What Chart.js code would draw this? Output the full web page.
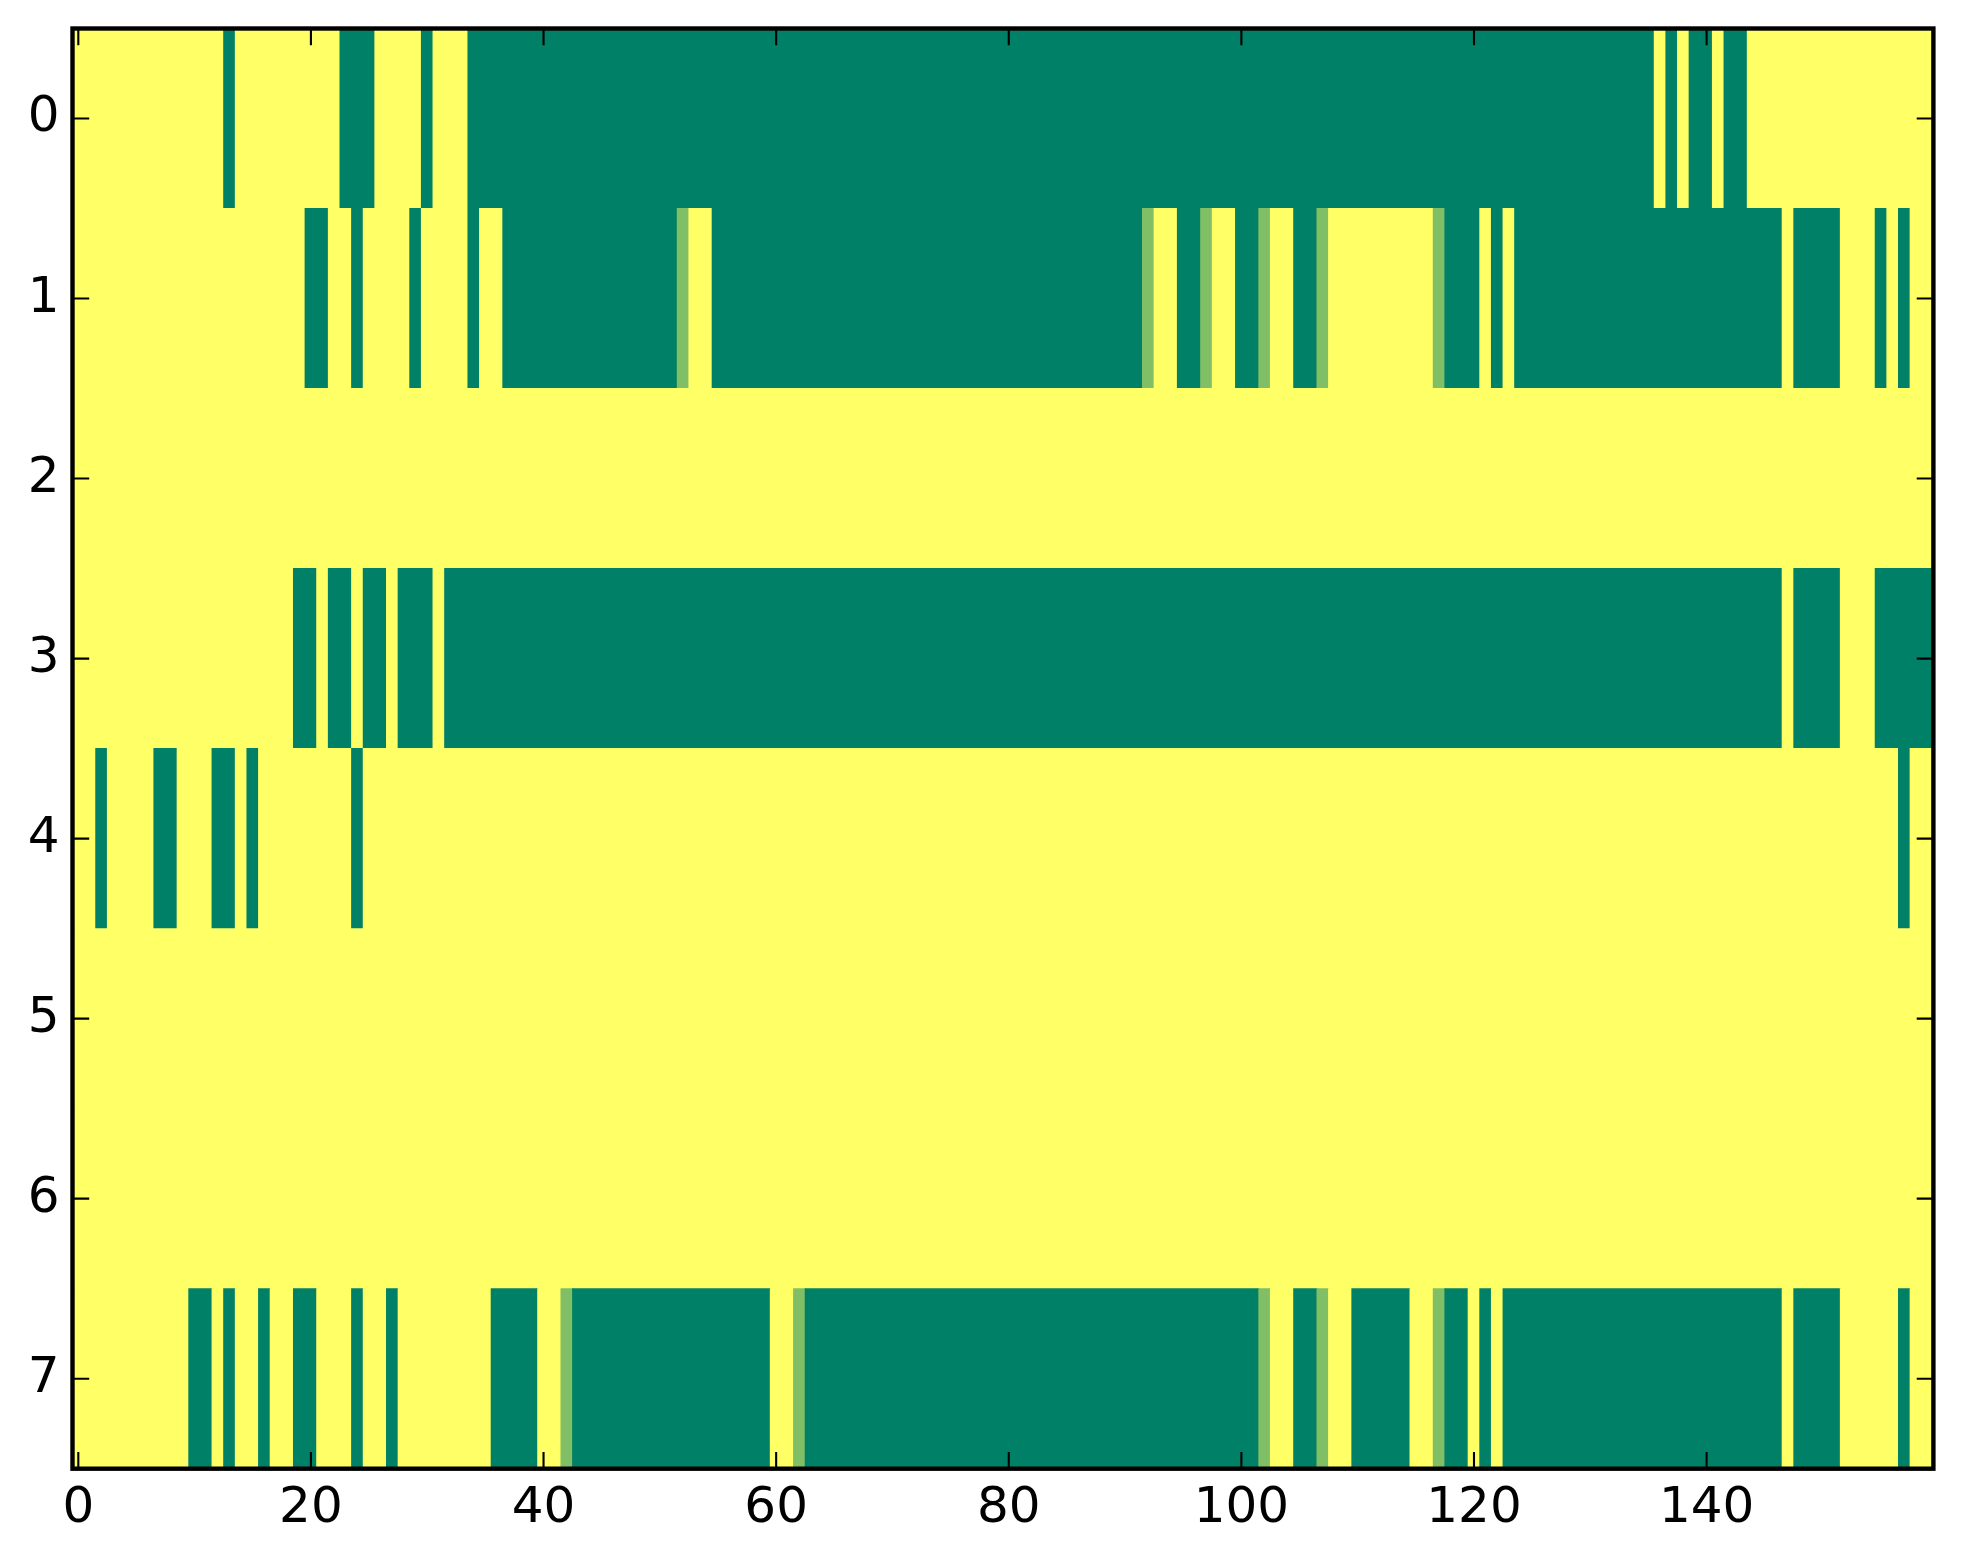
<!DOCTYPE html>
<html>
<head>
<meta charset="utf-8">
<script src="https://cdn.jsdelivr.net/npm/chart.js@4.4.1/dist/chart.umd.min.js"></script>
<style>
body{margin:0;background:#fff;}
</style>
</head>
<body>
<canvas id="mapa" width="1963" height="1564"></canvas>
<script>
// una fila de la imagen por arreglo, 160 columnas (0..159)
// 1 = amarillo, 0 = verde, 0.5 = intermedio
const fila0 = [
1,1,1,1,1,1,1,1,1,1, 1,1,1,0,1,1,1,1,1,1,
1,1,1,0,0,0,1,1,1,1, 0,1,1,1,0,0,0,0,0,0,
0,0,0,0,0,0,0,0,0,0, 0,0,0,0,0,0,0,0,0,0,
0,0,0,0,0,0,0,0,0,0, 0,0,0,0,0,0,0,0,0,0,
0,0,0,0,0,0,0,0,0,0, 0,0,0,0,0,0,0,0,0,0,
0,0,0,0,0,0,0,0,0,0, 0,0,0,0,0,0,0,0,0,0,
0,0,0,0,0,0,0,0,0,0, 0,0,0,0,0,0,1,0,1,0,
0,1,0,0,1,1,1,1,1,1, 1,1,1,1,1,1,1,1,1,1];
const fila1 = [
1,1,1,1,1,1,1,1,1,1, 1,1,1,1,1,1,1,1,1,1,
0,0,1,1,0,1,1,1,1,0, 1,1,1,1,0,1,1,0,0,0,
0,0,0,0,0,0,0,0,0,0, 0,0,.5,1,1,0,0,0,0,0,
0,0,0,0,0,0,0,0,0,0, 0,0,0,0,0,0,0,0,0,0,
0,0,0,0,0,0,0,0,0,0, 0,0,.5,1,1,0,0,.5,1,1,
0,0,.5,1,1,0,0,.5,1,1, 1,1,1,1,1,1,1,.5,0,0,
0,1,0,1,0,0,0,0,0,0, 0,0,0,0,0,0,0,0,0,0,
0,0,0,0,0,0,0,1,0,0, 0,0,1,1,1,0,1,0,1,1];
const fila2 = [
1,1,1,1,1,1,1,1,1,1, 1,1,1,1,1,1,1,1,1,1,
1,1,1,1,1,1,1,1,1,1, 1,1,1,1,1,1,1,1,1,1,
1,1,1,1,1,1,1,1,1,1, 1,1,1,1,1,1,1,1,1,1,
1,1,1,1,1,1,1,1,1,1, 1,1,1,1,1,1,1,1,1,1,
1,1,1,1,1,1,1,1,1,1, 1,1,1,1,1,1,1,1,1,1,
1,1,1,1,1,1,1,1,1,1, 1,1,1,1,1,1,1,1,1,1,
1,1,1,1,1,1,1,1,1,1, 1,1,1,1,1,1,1,1,1,1,
1,1,1,1,1,1,1,1,1,1, 1,1,1,1,1,1,1,1,1,1];
const fila3 = [
1,1,1,1,1,1,1,1,1,1, 1,1,1,1,1,1,1,1,1,0,
0,1,0,0,1,0,0,1,0,0, 0,1,0,0,0,0,0,0,0,0,
0,0,0,0,0,0,0,0,0,0, 0,0,0,0,0,0,0,0,0,0,
0,0,0,0,0,0,0,0,0,0, 0,0,0,0,0,0,0,0,0,0,
0,0,0,0,0,0,0,0,0,0, 0,0,0,0,0,0,0,0,0,0,
0,0,0,0,0,0,0,0,0,0, 0,0,0,0,0,0,0,0,0,0,
0,0,0,0,0,0,0,0,0,0, 0,0,0,0,0,0,0,0,0,0,
0,0,0,0,0,0,0,1,0,0, 0,0,1,1,1,0,0,0,0,0];
const fila4 = [
1,1,0,1,1,1,1,0,0,1, 1,1,0,0,1,0,1,1,1,1,
1,1,1,1,0,1,1,1,1,1, 1,1,1,1,1,1,1,1,1,1,
1,1,1,1,1,1,1,1,1,1, 1,1,1,1,1,1,1,1,1,1,
1,1,1,1,1,1,1,1,1,1, 1,1,1,1,1,1,1,1,1,1,
1,1,1,1,1,1,1,1,1,1, 1,1,1,1,1,1,1,1,1,1,
1,1,1,1,1,1,1,1,1,1, 1,1,1,1,1,1,1,1,1,1,
1,1,1,1,1,1,1,1,1,1, 1,1,1,1,1,1,1,1,1,1,
1,1,1,1,1,1,1,1,1,1, 1,1,1,1,1,1,1,0,1,1];
const fila5 = [
1,1,1,1,1,1,1,1,1,1, 1,1,1,1,1,1,1,1,1,1,
1,1,1,1,1,1,1,1,1,1, 1,1,1,1,1,1,1,1,1,1,
1,1,1,1,1,1,1,1,1,1, 1,1,1,1,1,1,1,1,1,1,
1,1,1,1,1,1,1,1,1,1, 1,1,1,1,1,1,1,1,1,1,
1,1,1,1,1,1,1,1,1,1, 1,1,1,1,1,1,1,1,1,1,
1,1,1,1,1,1,1,1,1,1, 1,1,1,1,1,1,1,1,1,1,
1,1,1,1,1,1,1,1,1,1, 1,1,1,1,1,1,1,1,1,1,
1,1,1,1,1,1,1,1,1,1, 1,1,1,1,1,1,1,1,1,1];
const fila6 = [
1,1,1,1,1,1,1,1,1,1, 1,1,1,1,1,1,1,1,1,1,
1,1,1,1,1,1,1,1,1,1, 1,1,1,1,1,1,1,1,1,1,
1,1,1,1,1,1,1,1,1,1, 1,1,1,1,1,1,1,1,1,1,
1,1,1,1,1,1,1,1,1,1, 1,1,1,1,1,1,1,1,1,1,
1,1,1,1,1,1,1,1,1,1, 1,1,1,1,1,1,1,1,1,1,
1,1,1,1,1,1,1,1,1,1, 1,1,1,1,1,1,1,1,1,1,
1,1,1,1,1,1,1,1,1,1, 1,1,1,1,1,1,1,1,1,1,
1,1,1,1,1,1,1,1,1,1, 1,1,1,1,1,1,1,1,1,1];
const fila7 = [
1,1,1,1,1,1,1,1,1,1, 0,0,1,0,1,1,0,1,1,0,
0,1,1,1,0,1,1,0,1,1, 1,1,1,1,1,1,0,0,0,0,
1,1,.5,0,0,0,0,0,0,0, 0,0,0,0,0,0,0,0,0,0,
1,1,.5,0,0,0,0,0,0,0, 0,0,0,0,0,0,0,0,0,0,
0,0,0,0,0,0,0,0,0,0, 0,0,0,0,0,0,0,0,0,0,
0,0,.5,1,1,0,0,.5,1,1, 0,0,0,0,0,1,1,.5,0,0,
1,0,1,0,0,0,0,0,0,0, 0,0,0,0,0,0,0,0,0,0,
0,0,0,0,0,0,0,1,0,0, 0,0,1,1,1,1,1,0,1,1];

const filas = [fila0, fila1, fila2, fila3, fila4, fila5, fila6, fila7];
const ticksX = [0, 20, 40, 60, 80, 100, 120, 140];
const ticksY = [0, 1, 2, 3, 4, 5, 6, 7];

// mapa de color "summer": 0 -> verde, 1 -> amarillo
function color_summer(v){
    const r = Math.round(255 * v);
    const g = Math.round(255 * (0.5 + v / 2));
    return 'rgb(' + r + ',' + g + ',102)';
}

// junta columnas seguidas del mismo valor en una sola barra flotante
function tramos(){
    const celdas = [];
    const colores = [];
    filas.forEach(function(fila, r){
        let inicio = 0;
        for(let c = 1; c <= fila.length; c++){
            if(c === fila.length || fila[c] !== fila[inicio]){
                celdas.push({x: [inicio - 0.5, c - 0.5], y: r});
                colores.push(color_summer(fila[inicio]));
                inicio = c;
            }
        }
    });
    return {celdas: celdas, colores: colores};
}

// marco negro y marcas hacia adentro en los cuatro lados
const marco = {
    id: 'marco',
    afterDraw(chart){
        const ctx = chart.ctx;
        const a = chart.chartArea;
        const largo = 16.7;
        ctx.save();
        ctx.strokeStyle = '#000';
        ctx.lineWidth = 2.1;
        ctx.beginPath();
        ticksX.forEach(function(v){
            const px = chart.scales.x.getPixelForValue(v);
            ctx.moveTo(px, a.bottom); ctx.lineTo(px, a.bottom - largo);
            ctx.moveTo(px, a.top); ctx.lineTo(px, a.top + largo);
        });
        ticksY.forEach(function(v){
            const py = chart.scales.y.getPixelForValue(v);
            ctx.moveTo(a.left, py); ctx.lineTo(a.left + largo, py);
            ctx.moveTo(a.right, py); ctx.lineTo(a.right - largo, py);
        });
        ctx.stroke();
        ctx.lineWidth = 4.4;
        ctx.strokeRect(a.left, a.top, a.right - a.left, a.bottom - a.top);
        ctx.restore();
    }
};

function grafico_mapa(){
    const ctx = document.getElementById('mapa');
    const datos = tramos();
    const fuente = {family: 'DejaVu Sans', size: 50};

    new Chart(ctx, {
        type: 'bar',
        data: {
            datasets: [{
                data: datos.celdas,
                backgroundColor: datos.colores,
                borderWidth: 0,
                inflateAmount: 0.5,
                barPercentage: 1,
                categoryPercentage: 1
            }]
        },
        options: {
            indexAxis: 'y',
            responsive: false,
            animation: false,
            devicePixelRatio: 1,
            layout: {padding: {top: 28.5, right: 29.6, left: 0, bottom: 0}},
            plugins: {
                legend: {display: false},
                tooltip: {enabled: false}
            },
            scales: {
                x: {
                    type: 'linear',
                    position: 'bottom',
                    min: -0.5,
                    max: 159.5,
                    grid: {display: false, drawTicks: false},
                    border: {display: false},
                    afterBuildTicks: function(s){ s.ticks = ticksX.map(v => ({value: v})); },
                    afterFit: function(s){ s.height = 95.3; s.paddingLeft = 0; s.paddingRight = 0; },
                    ticks: {font: fuente, color: '#000', padding: 10, maxRotation: 0, autoSkip: false}
                },
                y: {
                    type: 'linear',
                    reverse: true,
                    offset: false,
                    min: -0.5,
                    max: 7.5,
                    grid: {display: false, drawTicks: false},
                    border: {display: false},
                    afterBuildTicks: function(s){ s.ticks = ticksY.map(v => ({value: v})); },
                    afterFit: function(s){ s.width = 72.5; s.paddingTop = 0; s.paddingBottom = 0; },
                    ticks: {font: fuente, color: '#000', padding: 13, autoSkip: false}
                }
            }
        },
        plugins: [marco]
    });
}

grafico_mapa();
</script>
</body>
</html>
